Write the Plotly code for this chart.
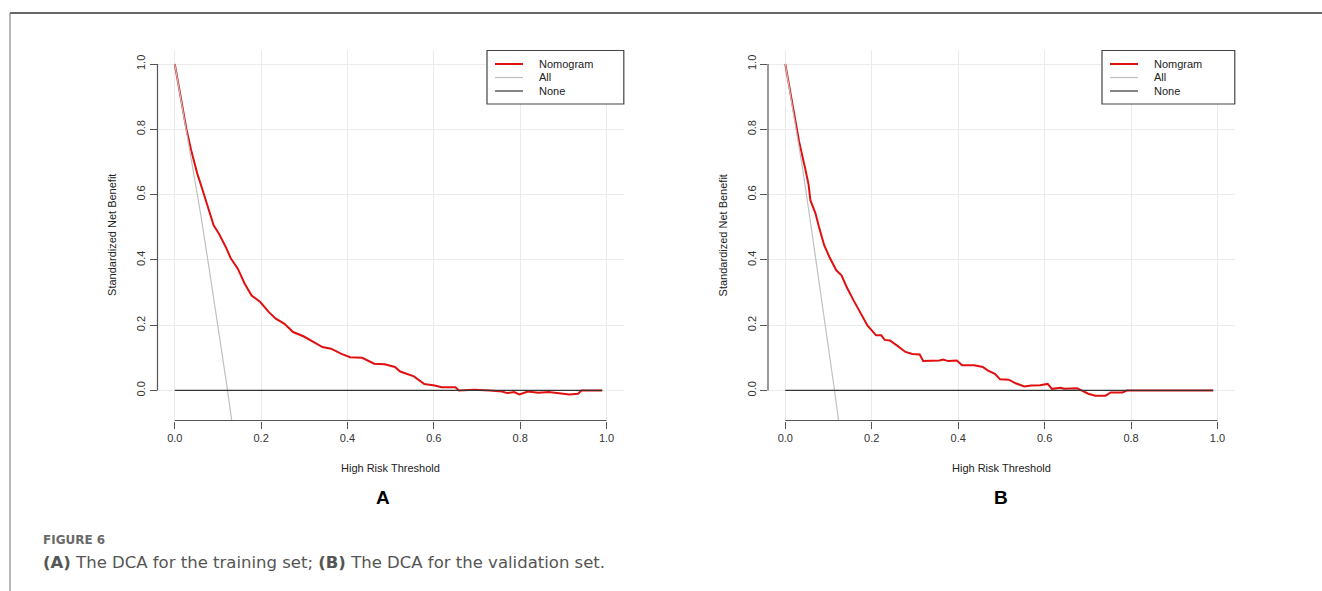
import plotly.graph_objects as go

# ---------------- data ----------------
ticks = [0.0, 0.2, 0.4, 0.6, 0.8, 1.0]
tick_labels = ["0.0", "0.2", "0.4", "0.6", "0.8", "1.0"]

# Panel A (training set)
a_threshold = [0.0, 0.014, 0.027, 0.038, 0.052, 0.062, 0.074, 0.09, 0.102,
               0.118, 0.13, 0.146, 0.162, 0.178, 0.198, 0.218, 0.234, 0.254, 0.274,
               0.298, 0.322, 0.342, 0.362, 0.386, 0.406, 0.434, 0.462, 0.486, 0.51,
               0.522, 0.554, 0.578, 0.602, 0.618, 0.65, 0.658, 0.694, 0.722, 0.73,
               0.758, 0.77, 0.786, 0.798, 0.818, 0.842, 0.866, 0.89, 0.914, 0.934,
               0.942, 0.99]
a_nomogram = [1.0, 0.9, 0.8, 0.736, 0.665, 0.624, 0.573, 0.506, 0.481,
              0.44, 0.404, 0.373, 0.327, 0.291, 0.271, 0.24, 0.22, 0.204, 0.179,
              0.166, 0.148, 0.133, 0.128, 0.112, 0.102, 0.1, 0.082, 0.08, 0.072,
              0.058, 0.043, 0.02, 0.015, 0.01, 0.01, 0.0, 0.002, 0.002, 0.0,
              -0.003, -0.008, -0.005, -0.012, -0.003, -0.007, -0.005, -0.008, -0.012, -0.01,
              0.0, 0.0]
a_all_x = [0.0, 0.02, 0.04, 0.06, 0.08, 0.10, 0.12, 0.135]
a_all_y = [1.0, 0.85, 0.70, 0.54, 0.37, 0.20, 0.02, -0.12]

# Panel B (validation set)
b_threshold = [0.0, 0.014, 0.022, 0.032, 0.046, 0.054, 0.058, 0.07, 0.078, 0.09, 0.102,
               0.118, 0.13, 0.142, 0.158, 0.174, 0.19, 0.21, 0.222, 0.23, 0.242,
               0.258, 0.278, 0.294, 0.311, 0.319, 0.333, 0.341, 0.357, 0.365, 0.377,
               0.397, 0.409, 0.437, 0.457, 0.469, 0.485, 0.497, 0.517, 0.533, 0.553,
               0.569, 0.589, 0.607, 0.617, 0.637, 0.645, 0.675, 0.685, 0.701, 0.717,
               0.741, 0.753, 0.78, 0.79, 0.99]
b_nomogram = [1.0, 0.9, 0.838, 0.762, 0.68, 0.63, 0.583, 0.542, 0.501, 0.445, 0.409,
              0.368, 0.353, 0.317, 0.276, 0.235, 0.199, 0.169, 0.169, 0.155, 0.153,
              0.138, 0.118, 0.112, 0.11, 0.09, 0.09, 0.092, 0.092, 0.095, 0.09,
              0.092, 0.077, 0.077, 0.072, 0.061, 0.051, 0.034, 0.033, 0.022, 0.012,
              0.015, 0.016, 0.02, 0.005, 0.008, 0.005, 0.007, 0.0, -0.01, -0.016,
              -0.016, -0.006, -0.006, 0.0, 0.0]
b_all_x = [0.0, 0.02, 0.04, 0.06, 0.08, 0.10, 0.114, 0.126]
b_all_y = [1.0, 0.84, 0.68, 0.50, 0.32, 0.14, 0.0, -0.12]

none_x = [0.0, 0.99]
none_y = [0.0, 0.0]

legend_a = ["Nomogram", "All", "None"]
legend_b = ["Nomgram", "All", "None"]
panel_labels = ["A", "B"]
x_title = "High Risk Threshold"
y_title = "Standardized Net Benefit"
caption_head = "FIGURE 6"
caption_text = ("<b>(A)</b> The DCA for the training set; "
                "<b>(B)</b> The DCA for the validation set.")

# ---------------- styling / layout ----------------
W, H = 1322, 591
def px(x):
    return x / W
def py(y):
    return 1 - y / H

RED = "#e01010"
GREY = "#c0c0c0"
BLACK = "#333333"
AX = "#555555"
FONT = "Liberation Sans, Arial, sans-serif"
CAP_FONT = "DejaVu Sans, Open Sans, sans-serif"

xdom_a = [px(157.5), px(623.8)]
xdom_b = [px(768.0), px(1234.8)]
ydom = [py(420.5), py(50.3)]
xrange_ = [-0.04, 1.04]
yrange_ = [-0.092, 1.042]

fig = go.Figure()

panels = [
    ("x", "y", a_threshold, a_nomogram, a_all_x, a_all_y, legend_a),
    ("x2", "y2", b_threshold, b_nomogram, b_all_x, b_all_y, legend_b),
]
for xa, ya, tx, ty, ax_, ay_, leg in panels:
    fig.add_trace(go.Scatter(x=tx, y=ty, mode="lines", name=leg[0], xaxis=xa, yaxis=ya,
                             line=dict(color=RED, width=2), showlegend=False))
    fig.add_trace(go.Scatter(x=ax_, y=ay_, mode="lines", name=leg[1], xaxis=xa, yaxis=ya,
                             line=dict(color=GREY, width=1.2), showlegend=False))
    fig.add_trace(go.Scatter(x=none_x, y=none_y, mode="lines", name=leg[2], xaxis=xa, yaxis=ya,
                             line=dict(color=BLACK, width=1.2), showlegend=False))

axis_common = dict(range=None, showgrid=True, gridcolor="#ebebeb", gridwidth=1,
                   zeroline=False, showline=False, ticks="outside", ticklen=7,
                   tickwidth=1, tickcolor=AX, tickvals=ticks, ticktext=tick_labels,
                   tickfont=dict(family=FONT, size=11, color="#333333"))

xa_cfg = dict(axis_common); xa_cfg["range"] = xrange_
ya_cfg = dict(axis_common); ya_cfg["range"] = yrange_; ya_cfg["tickangle"] = -90

fig.update_layout(
    width=W, height=H, autosize=False,
    margin=dict(l=0, r=0, t=0, b=0),
    paper_bgcolor="white", plot_bgcolor="white",
    xaxis=dict(xa_cfg, domain=xdom_a, anchor="y"),
    yaxis=dict(ya_cfg, domain=ydom, anchor="x"),
    xaxis2=dict(xa_cfg, domain=xdom_b, anchor="y2"),
    yaxis2=dict(ya_cfg, domain=ydom, anchor="x2"),
    showlegend=False,
)

shapes = []
annotations = []

# frame of the figure panel
shapes.append(dict(type="line", xref="paper", yref="paper", x0=px(10), x1=1.0,
                   y0=py(13), y1=py(13), line=dict(color="#333333", width=1.5)))
shapes.append(dict(type="line", xref="paper", yref="paper", x0=px(10), x1=px(10),
                   y0=py(13), y1=0.0, line=dict(color="#888888", width=1.2)))

legend_left = [487, 1102]
plot_right = [623.8, 1234.8]
title_cx = [(xdom_a[0] + xdom_a[1]) / 2, (xdom_b[0] + xdom_b[1]) / 2]
letter_shift = [-8, 0]
axis_left = [xdom_a[0], xdom_b[0]]
leg_sets = [legend_a, legend_b]
xrefs = ["x", "x2"]
yrefs = ["y", "y2"]

for i in range(2):
    # R-style axis lines spanning only the first..last tick
    shapes.append(dict(type="line", xref=xrefs[i], yref="paper", x0=ticks[0], x1=ticks[-1],
                       y0=ydom[0], y1=ydom[0], line=dict(color=AX, width=1.2)))
    shapes.append(dict(type="line", xref="paper", yref=yrefs[i], x0=axis_left[i], x1=axis_left[i],
                       y0=ticks[0], y1=ticks[-1], line=dict(color=AX, width=1.2)))
    # legend box
    L = legend_left[i]
    R = plot_right[i]
    shapes.append(dict(type="rect", xref="paper", yref="paper", x0=px(L), x1=px(R),
                       y0=py(104), y1=py(50.5), line=dict(color="#444444", width=1.2),
                       fillcolor="white"))
    cols = [RED, GREY, BLACK]
    widths = [2, 1.2, 1.2]
    ys = [64, 77.5, 91]
    for j in range(3):
        shapes.append(dict(type="line", xref="paper", yref="paper", x0=px(L + 8), x1=px(L + 36),
                           y0=py(ys[j]), y1=py(ys[j]), line=dict(color=cols[j], width=widths[j])))
        annotations.append(dict(xref="paper", yref="paper", x=px(L + 50), y=py(ys[j]),
                                text=leg_sets[i][j], showarrow=False, xanchor="left",
                                yanchor="middle", font=dict(family=FONT, size=11, color="#222222")))
    # axis titles
    annotations.append(dict(xref="paper", yref="paper", x=title_cx[i], y=py(468),
                            text=x_title, showarrow=False, xanchor="center", yanchor="middle",
                            font=dict(family=FONT, size=11, color="#222222")))
    annotations.append(dict(xref="paper", yref="paper", x=axis_left[i] - px(45), y=(ydom[0] + ydom[1]) / 2,
                            text=y_title, showarrow=False, textangle=-90, xanchor="center",
                            yanchor="middle", font=dict(family=FONT, size=11, color="#222222")))
    # panel letter
    annotations.append(dict(xref="paper", yref="paper", x=title_cx[i] + px(letter_shift[i]), y=py(497),
                            text="<b>" + panel_labels[i] + "</b>", showarrow=False,
                            xanchor="center", yanchor="middle",
                            font=dict(family=FONT, size=19, color="#000000")))

# caption
annotations.append(dict(xref="paper", yref="paper", x=px(41), y=py(540), text="<b>" + caption_head + "</b>",
                        showarrow=False, xanchor="left", yanchor="middle",
                        font=dict(family=CAP_FONT, size=12, color="#6a6a6a")))
annotations.append(dict(xref="paper", yref="paper", x=px(41), y=py(562), text=caption_text,
                        showarrow=False, xanchor="left", yanchor="middle",
                        font=dict(family=CAP_FONT, size=16.5, color="#555555")))

fig.update_layout(shapes=shapes, annotations=annotations)

fig.write_html("out.html", config={"displayModeBar": False},
               post_script="document.body.style.margin='0';document.body.style.overflow='hidden';")
